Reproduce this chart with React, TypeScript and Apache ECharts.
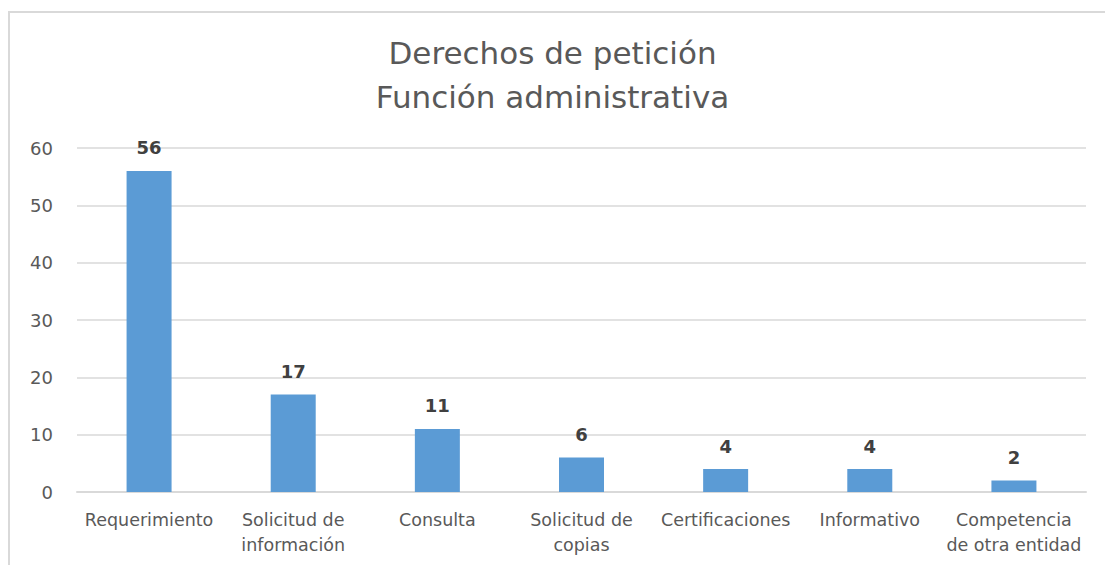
import React, { useEffect, useRef } from "react";
import * as echarts from "echarts";

const categories = [
  "Requerimiento",
  "Solicitud de\ninformación",
  "Consulta",
  "Solicitud de\ncopias",
  "Certificaciones",
  "Informativo",
  "Competencia\nde otra entidad",
];
const values = [56, 17, 11, 6, 4, 4, 2];
const titleLines = ["Derechos de petición", "Función administrativa"];

export default function App() {
  const ref = useRef<HTMLDivElement>(null);
  useEffect(() => {
    if (!ref.current) return;
    const chart = echarts.init(ref.current, null, { renderer: "svg" });
    const font = "'DejaVu Sans', sans-serif";
    chart.setOption({
      animation: false,
      backgroundColor: "#ffffff",
      title: {
        text: titleLines.join("\n"),
        left: "center",
        top: 26,
        textStyle: {
          fontFamily: font,
          fontSize: 31,
          fontWeight: "normal",
          color: "#595959",
          lineHeight: 44,
        },
      },
      graphic: [
        {
          type: "polyline",
          shape: { points: [[9, 565], [9, 12], [1105, 12]] },
          style: { stroke: "#d9d9d9", lineWidth: 2, fill: "none" },
          silent: true,
        },
      ],
      grid: { left: 77, right: 19, top: 148, bottom: 73, containLabel: false },
      xAxis: {
        type: "category",
        data: categories,
        axisLine: { lineStyle: { color: "#d9d9d9", width: 2 } },
        axisTick: { show: false },
        axisLabel: {
          interval: 0,
          margin: 15,
          fontFamily: font,
          fontSize: 17.5,
          color: "#595959",
          lineHeight: 25,
        },
      },
      yAxis: {
        type: "value",
        min: 0,
        max: 60,
        interval: 10,
        axisLine: { show: false },
        axisTick: { show: false },
        axisLabel: {
          fontFamily: font,
          fontSize: 18,
          color: "#595959",
          margin: 24,
        },
        splitLine: { lineStyle: { color: "#d9d9d9", width: 1.5 } },
      },
      series: [
        {
          type: "bar",
          data: values,
          barWidth: 45,
          itemStyle: { color: "#5b9bd5" },
          label: {
            show: true,
            position: "top",
            distance: 14,
            fontFamily: font,
            fontSize: 18,
            fontWeight: 600,
            color: "#404040",
          },
        },
      ],
    });
    return () => chart.dispose();
  }, []);
  return (
    <div
      ref={ref}
      style={{ position: "absolute", left: 0, top: 0, width: 1105, height: 565 }}
    />
  );
}
